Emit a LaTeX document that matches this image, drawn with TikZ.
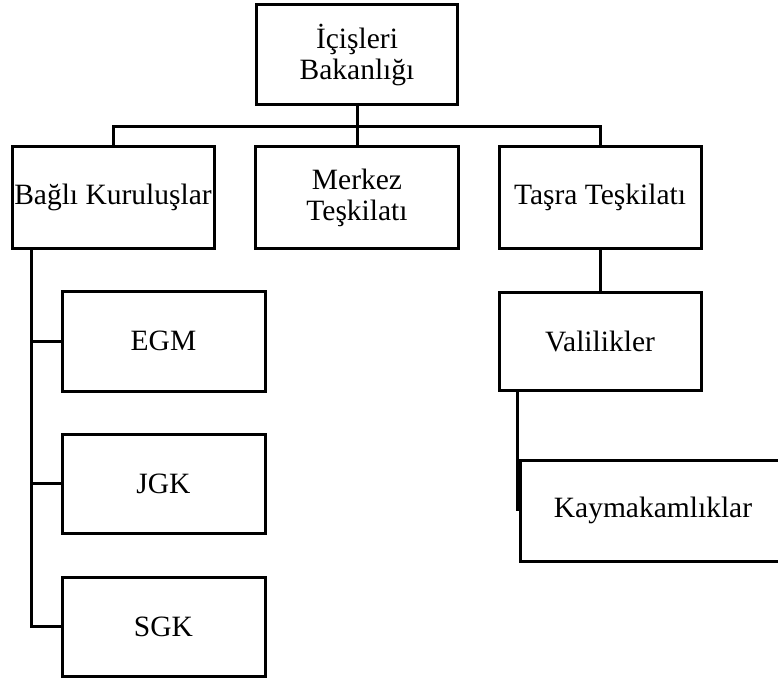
\documentclass[tikz,border=0pt]{standalone}
\usepackage{fontspec}
\setmainfont{Liberation Serif}
\begin{document}
\begin{tikzpicture}[x=1pt,y=-1pt,
  box/.style={draw,line width=3pt,rectangle,inner sep=0pt,align=center,
    font=\fontsize{29.5}{31}\selectfont},
  conn/.style={line width=3pt}]
\useasboundingbox (0,0) rectangle (778,679);
\node[box,minimum width=201pt,minimum height=100pt] (top) at (357,55) {İçişleri\\Bakanlığı};
\node[box,minimum width=202pt,minimum height=101pt] (bagli) at (113,197.5) {Bağlı Kuruluşlar};
\node[box,minimum width=203pt,minimum height=101pt] (merkez) at (357,197.5) {Merkez\\Teşkilatı};
\node[box,minimum width=202pt,minimum height=101pt] (tasra) at (600,197.5) {Taşra Teşkilatı};
\node[box,minimum width=203pt,minimum height=100pt] (egm) at (163.5,341) {EGM};
\node[box,minimum width=203pt,minimum height=99pt] (jgk) at (163.5,483.5) {JGK};
\node[box,minimum width=203pt,minimum height=99pt] (sgk) at (163.5,626.5) {SGK};
\node[box,minimum width=202pt,minimum height=98pt] (vali) at (600,341) {Valilikler};
\node[box,minimum width=266pt,minimum height=101pt] (kay) at (653,510.5) {Kaymakamlıklar};
\coordinate (bus) at (357,127);
\draw[conn] (top.south) -- (bus);
\draw[conn] (bus) -- (merkez.north);
\draw[conn] (bagli.north) |- (bus) -| (tasra.north);
\draw[conn] (tasra.south) -- (vali.north);
\coordinate (spine) at ([xshift=21pt]bagli.south west);
\draw[conn] (spine) |- (sgk.west);
\draw[conn] (egm.west) -- (egm.west -| spine);
\draw[conn] (jgk.west) -- (jgk.west -| spine);
\coordinate (vl) at ([xshift=19.5pt]vali.south west);
\draw[conn] (vl) -- (vl |- kay.west);
\end{tikzpicture}
\end{document}
